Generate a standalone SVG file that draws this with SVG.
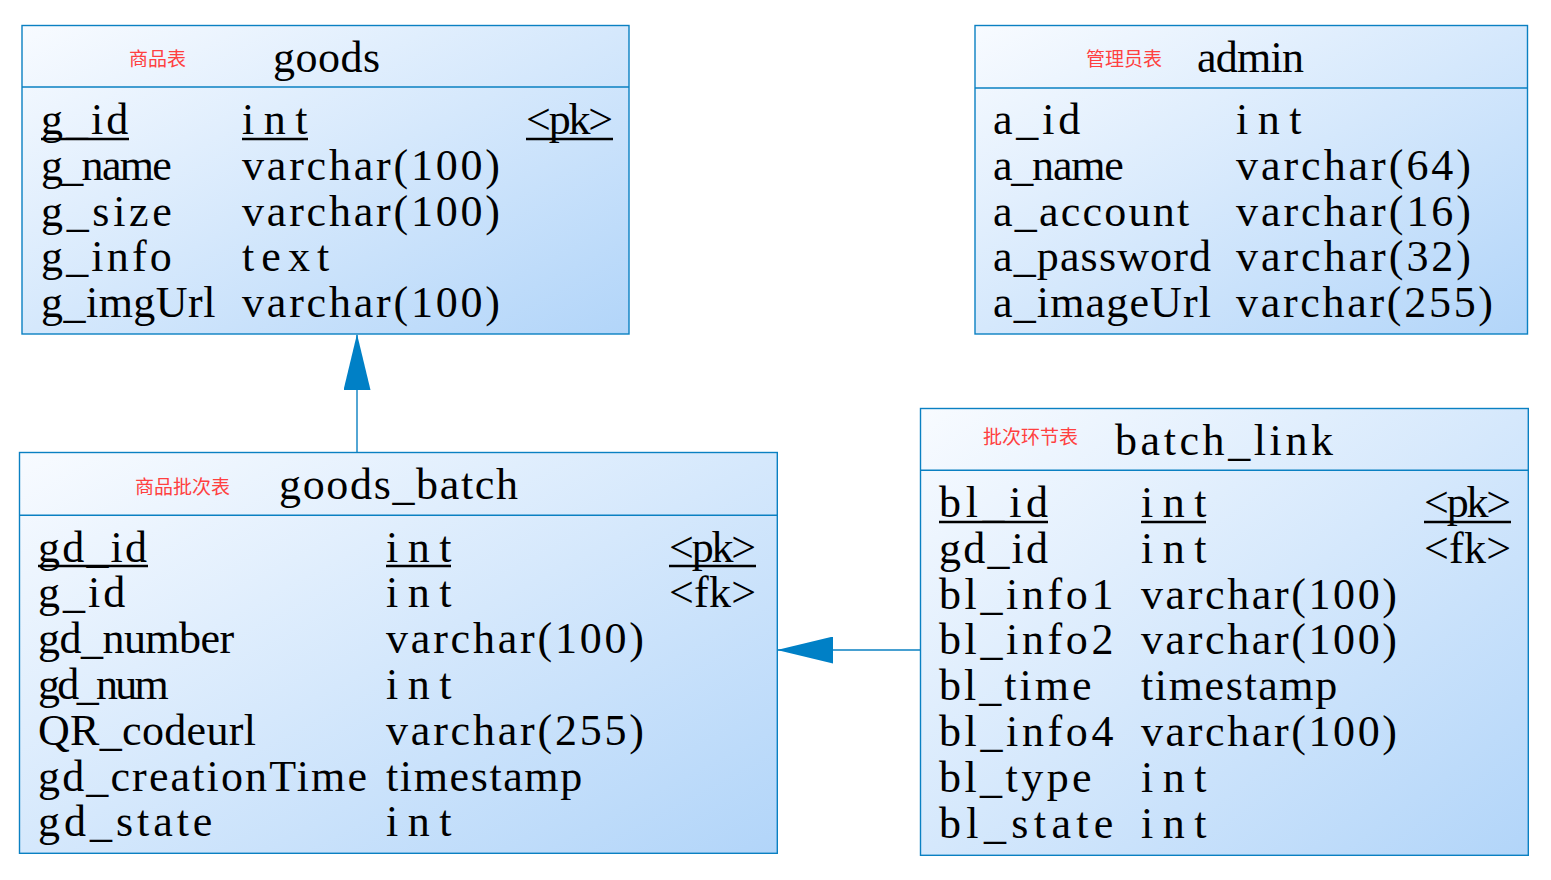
<svg xmlns="http://www.w3.org/2000/svg" width="1551" height="880" viewBox="0 0 1551 880">
<style>
.box{fill:url(#bg);stroke:#0a80c2;stroke-width:1.4}
.sep{stroke:#0a80c2;stroke-width:1.4}
.t{font-family:"Liberation Serif","Noto Sans CJK SC",serif;font-size:44px;fill:#000}
.cn{font-family:"Noto Sans CJK SC","Noto Sans CJK TC",sans-serif;font-size:19px;fill:#ff4040}
.ul{stroke:#000;stroke-width:2.4}
.conn{stroke:#0a80c2;stroke-width:1.4;fill:none}
</style>
<defs>
<linearGradient id="bg" x1="0" y1="0" x2="1" y2="1">
<stop offset="0" stop-color="#f8fbff"/>
<stop offset="1" stop-color="#b2d5f9"/>
</linearGradient>
<marker id="arr" markerUnits="userSpaceOnUse" markerWidth="56" markerHeight="27" viewBox="0 0 56 27" refX="55" refY="13.5" orient="auto">
<path d="M0,0 L56,13.5 L0,27 Z" fill="#0080c6"/>
</marker>
</defs>

<g id="connectors">
<path class="conn" d="M357,452 L357,335" marker-end="url(#arr)"/>
<path class="conn" d="M920,650 L778,650" marker-end="url(#arr)"/>
</g>

<g id="goods">
<rect class="box" x="22" y="25.5" width="607" height="308.5"/>
<line class="sep" x1="22" y1="87" x2="629" y2="87"/>
<text class="cn" x="129" y="65.5">商品表</text>
<text class="t" x="273" y="71.7" textLength="107" lengthAdjust="spacing">goods</text>
<text class="t" x="41" y="134" textLength="87.2" lengthAdjust="spacing">g_id</text>
<text class="t" x="242" y="134" textLength="65.4" lengthAdjust="spacing">int</text>
<text class="t" x="526" y="134" textLength="87.2" lengthAdjust="spacing">&lt;pk&gt;</text>
<line class="ul" x1="41" y1="139" x2="129" y2="139"/>
<line class="ul" x1="242" y1="139" x2="308" y2="139"/>
<line class="ul" x1="526" y1="139" x2="613" y2="139"/>
<text class="t" x="41" y="179.8" textLength="130.8" lengthAdjust="spacing">g_name</text>
<text class="t" x="242" y="179.8" textLength="258" lengthAdjust="spacing">varchar(100)</text>
<text class="t" x="41" y="225.6" textLength="130.8" lengthAdjust="spacing">g_size</text>
<text class="t" x="242" y="225.6" textLength="258" lengthAdjust="spacing">varchar(100)</text>
<text class="t" x="41" y="271.4" textLength="130.8" lengthAdjust="spacing">g_info</text>
<text class="t" x="242" y="271.4" textLength="87.2" lengthAdjust="spacing">text</text>
<text class="t" x="41" y="317.2" textLength="174.4" lengthAdjust="spacing">g_imgUrl</text>
<text class="t" x="242" y="317.2" textLength="258" lengthAdjust="spacing">varchar(100)</text>
</g>

<g id="admin">
<rect class="box" x="975" y="25.5" width="552.5" height="308.5"/>
<line class="sep" x1="975" y1="88" x2="1527.5" y2="88"/>
<text class="cn" x="1086" y="66">管理员表</text>
<text class="t" x="1197" y="71.7" textLength="107" lengthAdjust="spacing">admin</text>
<text class="t" x="993" y="134" textLength="87.2" lengthAdjust="spacing">a_id</text>
<text class="t" x="1236" y="134" textLength="65.4" lengthAdjust="spacing">int</text>
<text class="t" x="993" y="179.8" textLength="130.8" lengthAdjust="spacing">a_name</text>
<text class="t" x="1236" y="179.8" textLength="235" lengthAdjust="spacing">varchar(64)</text>
<text class="t" x="993" y="225.6" textLength="196.2" lengthAdjust="spacing">a_account</text>
<text class="t" x="1236" y="225.6" textLength="235" lengthAdjust="spacing">varchar(16)</text>
<text class="t" x="993" y="271.4" textLength="218" lengthAdjust="spacing">a_password</text>
<text class="t" x="1236" y="271.4" textLength="235" lengthAdjust="spacing">varchar(32)</text>
<text class="t" x="993" y="317.2" textLength="218" lengthAdjust="spacing">a_imageUrl</text>
<text class="t" x="1236" y="317.2" textLength="257" lengthAdjust="spacing">varchar(255)</text>
</g>

<g id="goods_batch">
<rect class="box" x="19.5" y="452.5" width="757.8" height="400.8"/>
<line class="sep" x1="19.5" y1="515.3" x2="777.3" y2="515.3"/>
<text class="cn" x="135" y="493.5">商品批次表</text>
<text class="t" x="279" y="499" textLength="239" lengthAdjust="spacing">goods_batch</text>
<text class="t" x="38" y="561.5" textLength="109" lengthAdjust="spacing">gd_id</text>
<text class="t" x="386" y="561.5" textLength="65.4" lengthAdjust="spacing">int</text>
<text class="t" x="669" y="561.5" textLength="87.2" lengthAdjust="spacing">&lt;pk&gt;</text>
<line class="ul" x1="38" y1="566" x2="148" y2="566"/>
<line class="ul" x1="386" y1="566" x2="451" y2="566"/>
<line class="ul" x1="669" y1="566" x2="756" y2="566"/>
<text class="t" x="38" y="607.3" textLength="87.2" lengthAdjust="spacing">g_id</text>
<text class="t" x="386" y="607.3" textLength="65.4" lengthAdjust="spacing">int</text>
<text class="t" x="669" y="607.3" textLength="87.2" lengthAdjust="spacing">&lt;fk&gt;</text>
<text class="t" x="38" y="653.1" textLength="196.2" lengthAdjust="spacing">gd_number</text>
<text class="t" x="386" y="653.1" textLength="258" lengthAdjust="spacing">varchar(100)</text>
<text class="t" x="38" y="698.9" textLength="130.8" lengthAdjust="spacing">gd_num</text>
<text class="t" x="386" y="698.9" textLength="65.4" lengthAdjust="spacing">int</text>
<text class="t" x="38" y="744.7" textLength="218" lengthAdjust="spacing">QR_codeurl</text>
<text class="t" x="386" y="744.7" textLength="258" lengthAdjust="spacing">varchar(255)</text>
<text class="t" x="38" y="790.5" textLength="329" lengthAdjust="spacing">gd_creationTime</text>
<text class="t" x="386" y="790.5" textLength="196.2" lengthAdjust="spacing">timestamp</text>
<text class="t" x="38" y="836.3" textLength="174.4" lengthAdjust="spacing">gd_state</text>
<text class="t" x="386" y="836.3" textLength="65.4" lengthAdjust="spacing">int</text>
</g>

<g id="batch_link">
<rect class="box" x="920.5" y="408.5" width="607.8" height="446.8"/>
<line class="sep" x1="920.5" y1="470.3" x2="1528.3" y2="470.3"/>
<text class="cn" x="983" y="443.5">批次环节表</text>
<text class="t" x="1115" y="455" textLength="218" lengthAdjust="spacing">batch_link</text>
<text class="t" x="939" y="517" textLength="109" lengthAdjust="spacing">bl_id</text>
<text class="t" x="1141" y="517" textLength="65.4" lengthAdjust="spacing">int</text>
<text class="t" x="1424" y="517" textLength="87.2" lengthAdjust="spacing">&lt;pk&gt;</text>
<line class="ul" x1="939" y1="522" x2="1048" y2="522"/>
<line class="ul" x1="1141" y1="522" x2="1206" y2="522"/>
<line class="ul" x1="1424" y1="522" x2="1511" y2="522"/>
<text class="t" x="939" y="562.8" textLength="109" lengthAdjust="spacing">gd_id</text>
<text class="t" x="1141" y="562.8" textLength="65.4" lengthAdjust="spacing">int</text>
<text class="t" x="1424" y="562.8" textLength="87.2" lengthAdjust="spacing">&lt;fk&gt;</text>
<text class="t" x="939" y="608.6" textLength="174.4" lengthAdjust="spacing">bl_info1</text>
<text class="t" x="1141" y="608.6" textLength="256" lengthAdjust="spacing">varchar(100)</text>
<text class="t" x="939" y="654.4" textLength="174.4" lengthAdjust="spacing">bl_info2</text>
<text class="t" x="1141" y="654.4" textLength="256" lengthAdjust="spacing">varchar(100)</text>
<text class="t" x="939" y="700.2" textLength="152.6" lengthAdjust="spacing">bl_time</text>
<text class="t" x="1141" y="700.2" textLength="196.2" lengthAdjust="spacing">timestamp</text>
<text class="t" x="939" y="746" textLength="174.4" lengthAdjust="spacing">bl_info4</text>
<text class="t" x="1141" y="746" textLength="256" lengthAdjust="spacing">varchar(100)</text>
<text class="t" x="939" y="791.8" textLength="152.6" lengthAdjust="spacing">bl_type</text>
<text class="t" x="1141" y="791.8" textLength="65.4" lengthAdjust="spacing">int</text>
<text class="t" x="939" y="837.6" textLength="174.4" lengthAdjust="spacing">bl_state</text>
<text class="t" x="1141" y="837.6" textLength="65.4" lengthAdjust="spacing">int</text>
</g>
</svg>
